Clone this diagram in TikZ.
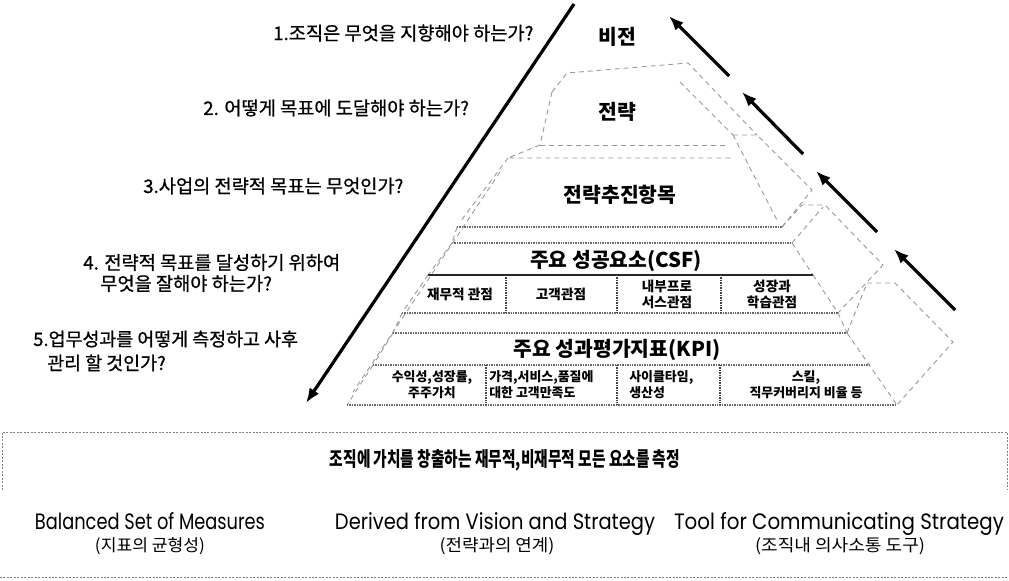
\documentclass[tikz,border=0pt]{standalone}
\usepackage{fontspec}
\usepackage{graphicx}
\setmainfont{Noto Sans CJK KR}
\newfontfamily\krsemi[FakeBold=0.8]{Noto Sans CJK KR}
\newfontfamily\gothic{Poppins}
\usetikzlibrary{arrows.meta}
\newlength\pxu
\setlength\pxu{0.75pt}
\newcommand{\boxfit}[3]{\resizebox{#1\pxu}{#2\pxu}{#3}}
\tikzset{
  bigarrow/.style={line width=2.4pt, -{Latex[length=11pt,width=8.5pt]}},
  edge/.style={draw=black!40, dash pattern=on 3.75pt off 3pt, line width=0.68pt},
  rim/.style={draw=black!60, dash pattern=on 1.1pt off 0.75pt, line width=0.8pt},
  sep/.style={draw=black!75, dash pattern=on 1.1pt off 0.75pt, line width=1pt},
  solidline/.style={draw=black!85, line width=1.1pt},
  boxline/.style={draw=black!50, dash pattern=on 1.5pt off 1.1pt, line width=0.75pt},
  question/.style={font=\krsemi\fontsize{14}{15.75}\selectfont, inner sep=0pt, anchor=west, align=left},
  level/.style={font=\fontsize{15.3}{17}\selectfont\bfseries, inner sep=0pt},
  cell/.style={font=\fontsize{10.2}{12}\selectfont\bfseries, inner sep=0pt, align=center},
  kcell/.style={font=\fontsize{9.7}{12}\selectfont\bfseries, inner sep=0pt, align=center},
  kcellL/.style={font=\fontsize{9.7}{12}\selectfont\bfseries, inner sep=0pt, align=left, anchor=west},
  plain/.style={inner sep=0pt}
}
\begin{document}
\begin{tikzpicture}[x=0.75pt,y=-0.75pt]
\useasboundingbox (0,0) rectangle (1009,581);

% ---------- arrows ----------
\coordinate (bigtop) at (574,4);
\coordinate (bigtip) at (306,403);
\draw[bigarrow] (bigtop) -- (bigtip);
\coordinate (a1t) at (729,76);  \coordinate (a1h) at (669,16);
\coordinate (a2t) at (803,154); \coordinate (a2h) at (742,92);
\coordinate (a3t) at (877,232); \coordinate (a3h) at (816,171);
\coordinate (a4t) at (955,310); \coordinate (a4h) at (894,249);
\draw[bigarrow] (a1t) -- (a1h);
\draw[bigarrow] (a2t) -- (a2h);
\draw[bigarrow] (a3t) -- (a3h);
\draw[bigarrow] (a4t) -- (a4h);

% ---------- questions ----------
\node[question] (q1) at (273,33) {1.조직은 무엇을 지향해야 하는가?};
\node[question] (q2) at (203,108) {2. 어떻게 목표에 도달해야 하는가?};
\node[question] (q3) at (143,186) {3.사업의 전략적 목표는 무엇인가?};
\node[question] (q4) at (83,273) {4. 전략적 목표를 달성하기 위하여\\\hspace*{12.75pt}무엇을 잘해야 하는가?};
\node[question, font=\krsemi\fontsize{13.8}{18}\selectfont] (q5) at (33,351) {5.업무성과를 어떻게 측정하고 사후\\\hspace*{10.5pt}관리 할 것인가?};

% ---------- slab 1 : strategy ----------
\draw[edge] (552,92) -- (567,73) -- (688,63) -- (757,135);
\draw[edge] (680,82) -- (733,135);
\draw[edge] (552,92) -- (540,145);
\draw[edge] (540,145) -- (727,145);

% ---------- slab 2 : strategic items ----------
\draw[edge] (540,145) -- (508,158) -- (733,158);
\draw[edge] (508,158) -- (460,222);
\draw[edge] (733,135) -- (757,135) -- (812,190) -- (782,227);
\draw[edge] (733,135) -- (778,222);
\draw[rim] (457,227) -- (782,227);

% ---------- slab 3 : CSF ----------
\draw[edge] (457,227) -- (452,243);
\draw[rim] (452,243) -- (792,243);
\draw[edge] (782,227) -- (802,205) -- (825,205) -- (883,265) -- (838,313);
\draw[edge] (792,243) -- (823,207);
\draw[edge] (452,243) -- (428,275);
\draw[edge] (792,243) -- (813,275);
\draw[solidline] (428,275) -- (813,275);
\draw[edge] (428,275) -- (402,313);
\draw[edge] (813,275) -- (838,313);
\draw[rim] (402,313) -- (838,313);
\draw[sep] (506,275) -- (506,313);
\draw[sep] (617,275) -- (617,313);
\draw[sep] (721,275) -- (721,313);

% ---------- slab 4 : KPI ----------
\draw[edge] (402,313) -- (393,333);
\draw[edge] (838,313) -- (847,333);
\draw[rim] (393,333) -- (847,333);
\draw[edge] (847,333) -- (867,283) -- (895,283) -- (953,342) -- (897,405);
\draw[edge] (847,333) -- (897,405);
\draw[edge] (393,333) -- (373,365);
\draw[rim] (373,365) -- (870,365);
\draw[edge] (373,365) -- (347,405);
\draw[rim] (347,405) -- (897,405);
\draw[sep] (486,365) -- (486,405);
\draw[sep] (617,365) -- (617,405);
\draw[sep] (720,365) -- (720,405);

% left outer face
\draw[edge] (500,172) -- (353,392);

% ---------- level labels ----------
\node[level] (vision) at (617,37) {비전};
\node[level] (strategy) at (617,112) {전략};
\node[level] (drivers) at (620,195) {전략추진항목};
\node[level] (csf) at (616,261) {주요 성공요소(CSF)};
\node[level] (kpi) at (617,350) {주요 성과평가지표(KPI)};

% ---------- CSF cells ----------
\node[cell] (c1) at (460,294) {재무적 관점};
\node[cell] (c2) at (561,294) {고객관점};
\node[cell] (c3) at (667,294) {내부프로\\서스관점};
\node[cell] (c4) at (772,294) {성장과\\학습관점};

% ---------- KPI cells ----------
\node[kcell] (k1) at (432,385) {수익성,성장률,\\주주가치};
\node[kcellL] (k2) at (489,385) {가격,서비스,품질에\\대한 고객만족도};
\node[kcellL] (k3) at (629,385) {사이클타임,\\생산성};
\node[kcell] (k4) at (806,385) {스킬,\\직무커버리지 비율 등};

% ---------- bottom ----------
\draw[boxline] (2,490) -- (2,432) -- (1007,432) -- (1007,490);
\node[plain] (measure) at (505,460) {\boxfit{350}{17}{\bfseries 조직에 가치를 창출하는 재무적,비재무적 모든 요소를 측정}};

\node[plain, anchor=base] (e1) at (150,529) {\boxfit{230}{17}{\gothic Balanced Set of Measures}};
\node[plain, anchor=base] (e2) at (495,529) {\boxfit{320}{17}{\gothic Derived from Vision and Strategy}};
\node[plain, anchor=base] (e3) at (839,529) {\boxfit{330}{17}{\gothic Tool for Communicating Strategy}};
\node[plain, anchor=base] (s1) at (150,551) {\boxfit{110}{14}{(지표의 균형성)}};
\node[plain, anchor=base] (s2) at (497,551) {\boxfit{115}{14}{(전략과의 연계)}};
\node[plain, anchor=base] (s3) at (840,551) {\boxfit{170}{14}{(조직내 의사소통 도구)}};

\draw[boxline] (0,577) -- (1009,577);
\end{tikzpicture}
\end{document}
